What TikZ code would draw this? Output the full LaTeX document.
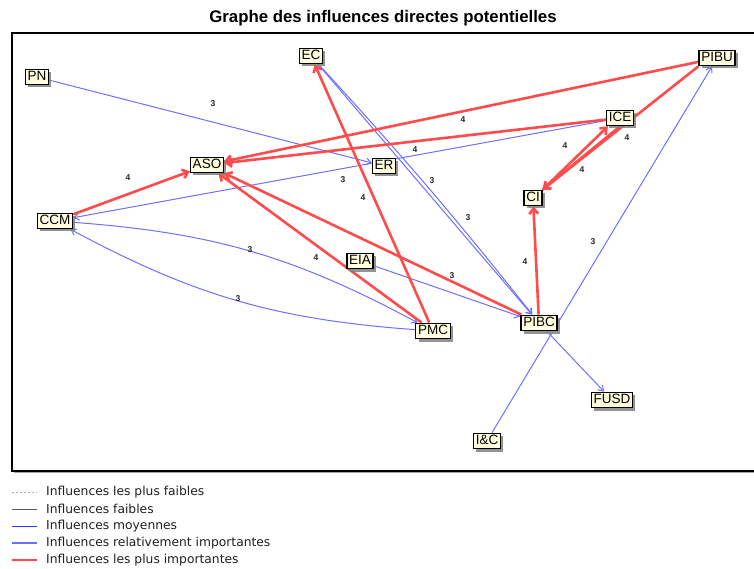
\documentclass[tikz,border=0pt]{standalone}
\usepackage{fontspec}
\setmainfont{Liberation Sans}
\newfontfamily\legendfont{DejaVu Sans}
\usetikzlibrary{arrows.meta,shadows}
\pgfdeclarelayer{edges}
\pgfsetlayers{edges,main}
\definecolor{infblue}{RGB}{110,110,255}
\definecolor{infred}{RGB}{255,75,75}
\definecolor{boxfill}{RGB}{255,255,224}
\tikzset{
  var/.style={draw=black, line width=1.3pt, fill=boxfill,
    font=\fontsize{13.5}{13.5}\selectfont, inner xsep=2.2pt, inner ysep=1.6pt,
    text height=9.8pt, text depth=2.4pt,
    drop shadow={shadow xshift=2.8pt, shadow yshift=-2.8pt, fill=black!50, opacity=0.85}},
  blueinf/.style={draw=infblue, line width=1pt, -{Straight Barb[length=5pt,width=7pt]}},
  redinf/.style={draw=infred, line width=2.6pt, -{Straight Barb[length=5.5pt,width=9pt]}},
  wt/.style={font=\fontsize{8.5}{8.5}\selectfont\bfseries, text=black!85, inner sep=0pt},
  legtext/.style={anchor=west, font=\legendfont\fontsize{12.3}{12.3}\selectfont, inner sep=0pt, text=black!88},
}
\begin{document}
\begin{tikzpicture}[x=1pt, y=-1pt]
\useasboundingbox (0,0) rectangle (754,569);

% title and frame
\node[font=\fontsize{16.8}{16.8}\selectfont\bfseries] (title) at (383,18) {Graphe des influences directes potentielles};
\draw[black!35, line width=1.2pt] (14,472.5) -- (760,472.5);
\draw[black, line width=1.2pt] (760,33) -- (12,33) -- (12,471) -- (760,471);

% variables
\node[var] (EC)   at (311,56)  {EC};
\node[var] (PN)   at (37,77)   {PN};
\node[var] (PIBU) at (717,58)  {PIBU};
\node[var] (ASO)  at (207,165) {ASO};
\node[var] (ER)   at (384,166) {ER};
\node[var] (ICE)  at (620,118) {ICE};
\node[var] (CI)   at (533,198) {CI};
\node[var] (CCM)  at (55,221)  {CCM};
\node[var] (EIA)  at (360,261) {EIA};
\node[var] (PMC)  at (433,331) {PMC};
\node[var] (PIBC) at (539,323) {PIBC};
\node[var] (FUSD) at (612,400) {FUSD};
\node[var] (IC)   at (487,441) {I\&C};

% influences
\begin{pgfonlayer}{edges}
  % medium influences
  \draw[blueinf] (PN) -- (ER);
  \draw[blueinf] (ICE) -- (CCM);
  \draw[blueinf] (EC) -- (PIBC);
  \draw[blueinf] (EC) to[bend left=2] (PIBC);
  \draw[blueinf] (EIA) -- (PIBC);
  \draw[blueinf] (CCM) to[bend left=12] (PMC);
  \draw[blueinf] (PMC) to[bend left=12] (CCM);
  \draw[blueinf] (IC) -- (PIBU);
  \draw[blueinf] (PIBC) -- (FUSD);
  % strongest influences
  \draw[redinf] (PIBU) -- (ASO);
  \draw[redinf] (ICE) -- (ASO);
  \draw[redinf] (CCM) -- (ASO);
  \draw[redinf] (PMC) -- (ASO);
  \draw[redinf] (PIBC) -- (ASO);
  \draw[redinf] (PMC) -- (EC);
  \draw[redinf] (CI.north east) -- ([xshift=2pt]ICE.south west);
  \draw[redinf] (ICE.south) -- (CI.north east);
  \draw[redinf] (PIBU.south west) -- (CI.north east);
  \draw[redinf] (PIBC) -- (CI);
\end{pgfonlayer}

% weights
\node[wt] (w1)  at (213,104) {3};
\node[wt] (w2)  at (463,120) {4};
\node[wt] (w3)  at (415,150) {4};
\node[wt] (w4)  at (343,180) {3};
\node[wt] (w5)  at (363,198) {4};
\node[wt] (w6)  at (432,181) {3};
\node[wt] (w7)  at (468,218) {3};
\node[wt] (w8)  at (128,178) {4};
\node[wt] (w9)  at (565,146) {4};
\node[wt] (w10) at (627,138) {4};
\node[wt] (w11) at (582,170) {4};
\node[wt] (w12) at (250,250) {3};
\node[wt] (w13) at (238,299) {3};
\node[wt] (w14) at (316,258) {4};
\node[wt] (w15) at (452,276) {3};
\node[wt] (w16) at (525,262) {4};
\node[wt] (w17) at (593,242) {3};

% legend
\coordinate (k1a) at (12,492); \coordinate (k1b) at (37,492);
\coordinate (k2a) at (12,509); \coordinate (k2b) at (37,509);
\coordinate (k3a) at (12,526); \coordinate (k3b) at (37,526);
\coordinate (k4a) at (12,543); \coordinate (k4b) at (37,543);
\coordinate (k5a) at (12,560); \coordinate (k5b) at (37,560);
\draw[black!30, line width=0.6pt, dash pattern=on 2pt off 2pt] (k1a) -- (k1b);
\draw[black!65, line width=0.7pt] (k2a) -- (k2b);
\draw[blue!80, line width=0.8pt] (k3a) -- (k3b);
\draw[infblue, line width=2pt] (k4a) -- (k4b);
\draw[infred, line width=2.6pt] (k5a) -- (k5b);
\node[legtext] (t1) at (46,492) {Influences les plus faibles};
\node[legtext] (t2) at (46,509) {Influences faibles};
\node[legtext] (t3) at (46,526) {Influences moyennes};
\node[legtext] (t4) at (46,543) {Influences relativement importantes};
\node[legtext] (t5) at (46,560) {Influences les plus importantes};
\end{tikzpicture}
\end{document}
